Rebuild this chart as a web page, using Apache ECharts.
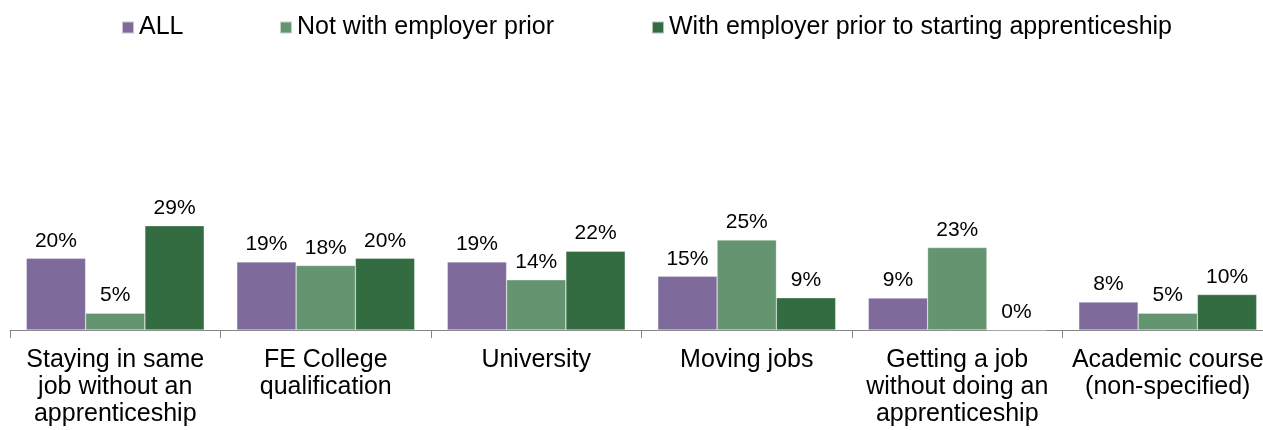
<!DOCTYPE html>
<html><head><meta charset="utf-8">
<script src="https://cdn.jsdelivr.net/npm/echarts@6/dist/echarts.min.js"></script>
<style>html,body{margin:0;padding:0;background:#fff}#c{width:1263px;height:430px}</style>
</head><body><div id="c"></div>
<script>
const categories = [
  "Staying in same\njob without an\napprenticeship",
  "FE College\nqualification",
  "University",
  "Moving jobs",
  "Getting a job\nwithout doing an\napprenticeship",
  "Academic course\n(non-specified)"
];
const seriesNames = ["ALL", "Not with employer prior", "With employer prior to starting apprenticeship"];
const allValues = [20, 19, 19, 15, 8.9, 7.8];
const notWithEmployer = [4.7, 18, 14, 25.1, 23, 4.7];
const withEmployer = [29.1, 20, 22, 9, 0, 9.9];
const colors = ["#7F6A9C", "#659470", "#336C41"];

const font = "'Liberation Sans', Arial, sans-serif";
const chart = echarts.init(document.getElementById('c'), null, {renderer: 'canvas'});
const mk = (name, data, color) => ({
  name, type: 'bar', data, barGap: '0%', barCategoryGap: '15.5%',
  itemStyle: {color, borderColor: 'rgba(255,255,255,0.6)', borderWidth: 0.5},
  label: {show: true, position: 'top', distance: 7, color: '#000', fontFamily: font, fontSize: 21,
    formatter: p => Math.round(p.value) + '%'}
});
const legendBase = (name, left) => ({
  data: [name], left, top: 15, padding: 0, itemWidth: 12, itemHeight: 12, itemGap: 0,
  icon: 'rect', textStyle: {fontFamily: font, fontSize: 25, color: '#000'}, selectedMode: false
});
chart.setOption({
  animation: false,
  legend: [legendBase(seriesNames[0], 121), legendBase(seriesNames[1], 279), legendBase(seriesNames[2], 651)],
  grid: {left: 10, width: 1263, top: 150.8, bottom: 100, containLabel: false, outerBoundsMode: 'none'},
  xAxis: {
    type: 'category', data: categories,
    axisLine: {lineStyle: {color: '#868686', width: 1}},
    axisTick: {show: true, length: 8, lineStyle: {color: '#868686'}},
    axisLabel: {interval: 0, margin: 17, color: '#000', fontFamily: font, fontSize: 25, lineHeight: 27}
  },
  yAxis: {type: 'value', min: 0, max: 50, show: false, splitLine: {show: false}},
  series: [mk(seriesNames[0], allValues, colors[0]), mk(seriesNames[1], notWithEmployer, colors[1]), mk(seriesNames[2], withEmployer, colors[2])]
});
</script></body></html>
